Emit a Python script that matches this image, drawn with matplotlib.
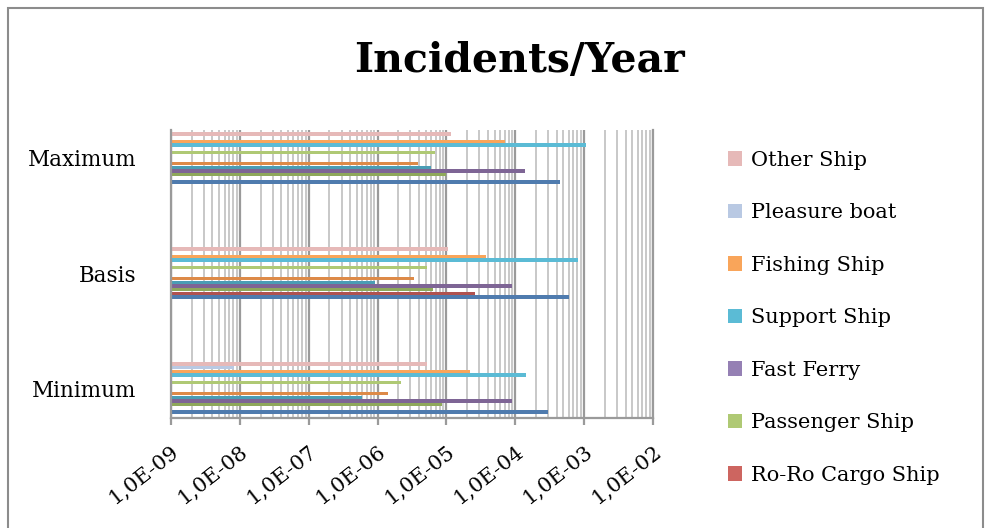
import numpy as np
import matplotlib.pyplot as plt
from matplotlib.patches import Rectangle
from matplotlib.ticker import LogLocator, FixedFormatter, NullFormatter

# categories from bottom to top of the chart
categories = ['Minimum', 'Basis', 'Maximum']

# series in plotting order (first series sits at the bottom of each group)
series_names = [
    'Series 1', 'Series 2', 'Series 3', 'Series 4', 'Series 5', 'Series 6',
    'Series 7', 'Ro-Ro Cargo Ship', 'Passenger Ship', 'Fast Ferry',
    'Support Ship', 'Fishing Ship', 'Pleasure boat', 'Other Ship',
]
series_colors = [
    '#4F7BAE', '#B0524F', '#8EA85A', '#7E6595', '#4A9DB5', '#DD8A48',
    '#6A93CB', '#CD6560', '#AFC974', '#9580B4', '#5BBBD5', '#F9A55A',
    '#B9C9E3', '#E6B9B8',
]
nan = np.nan
# incidents per year: [Minimum, Basis, Maximum]
s1 = [3.0e-4, 6.1e-4, 4.4e-4]
s2 = [nan, 2.6e-5, nan]
s3 = [8.5e-6, 6.3e-6, 1.0e-5]
s4 = [9.0e-5, 8.9e-5, 1.37e-4]
s5 = [5.9e-7, 9.2e-7, 5.9e-6]
s6 = [1.43e-6, 3.4e-6, 3.9e-6]
s7 = [nan, nan, nan]
roro_cargo = [nan, nan, nan]
passenger = [2.2e-6, 5.2e-6, 6.9e-6]
fast_ferry = [nan, nan, nan]
support = [1.45e-4, 8.2e-4, 1.05e-3]
fishing = [2.2e-5, 3.8e-5, 7.0e-5]
pleasure = [7.2e-9, nan, nan]
other = [5.2e-6, 1.05e-5, 1.15e-5]
values = [s1, s2, s3, s4, s5, s6, s7, roro_cargo, passenger, fast_ferry,
          support, fishing, pleasure, other]
legend_names = ['Other Ship', 'Pleasure boat', 'Fishing Ship', 'Support Ship',
                'Fast Ferry', 'Passenger Ship', 'Ro-Ro Cargo Ship']
tick_values = [1e-9, 1e-8, 1e-7, 1e-6, 1e-5, 1e-4, 1e-3, 1e-2]
tick_labels = ['1,0E-09', '1,0E-08', '1,0E-07', '1,0E-06',
               '1,0E-05', '1,0E-04', '1,0E-03', '1,0E-02']

plt.rcParams['font.family'] = ['DejaVu Serif']

fig = plt.figure(figsize=(9.87, 5.28), dpi=100)
ax = fig.add_axes([171 / 987, 110 / 528, 482 / 987, 288 / 528])

n = len(values)
group = 0.45
slot = group / n
y = np.arange(len(categories))
handles = {}
for i, (name, vals, col) in enumerate(zip(series_names, values, series_colors)):
    pos = y - group / 2 + (i + 0.5) * slot
    bars = ax.barh(pos, vals, height=slot * 0.92, left=tick_values[0],
                   color=col, linewidth=0)
    handles[name] = bars

ax.set_xscale('log')
ax.set_xlim(tick_values[0], tick_values[-1])
ax.set_ylim(-0.26, 2.243)
ax.set_xticks(tick_values)
ax.xaxis.set_major_formatter(FixedFormatter(tick_labels))
ax.xaxis.set_minor_locator(LogLocator(base=10, subs=np.arange(2, 10)))
ax.xaxis.set_minor_formatter(NullFormatter())
ax.grid(True, which='major', axis='x', color='#9A9A9A', linewidth=1.6)
ax.grid(True, which='minor', axis='x', color='#C8C8C8', linewidth=1.4)
ax.set_axisbelow(True)
ax.tick_params(axis='x', which='major', length=5, color='#9A9A9A', width=1.6,
               labelsize=15, pad=12)
ax.tick_params(axis='x', which='minor', length=0)
plt.setp(ax.get_xticklabels(), rotation=38, ha='right', va='top',
         rotation_mode='anchor')
ax.set_yticks(y)
ax.set_yticklabels(categories, fontsize=15.5)
ax.tick_params(axis='y', length=0, pad=25)
ax.spines['top'].set_visible(False)
for side in ['left', 'bottom', 'right']:
    ax.spines[side].set_color('#9A9A9A')
    ax.spines[side].set_linewidth(1.6)

fig.text(0.526, 0.885, 'Incidents/Year', ha='center', va='center',
         fontsize=29.5, fontweight='bold')

fig.legend([handles[nm] for nm in legend_names], legend_names,
           loc='upper left', bbox_to_anchor=(709 / 987, 1 - 132 / 528),
           frameon=False, fontsize=15, labelspacing=1.61,
           handlelength=0.7, handleheight=0.7, handletextpad=0.4)

fig.patches.append(Rectangle((8 / 987, -0.05), 975 / 987, 1.05 - 8 / 528,
                             transform=fig.transFigure, fill=False,
                             edgecolor='#8C8C8C', linewidth=1.5))

fig.savefig('out.png', dpi=100)
